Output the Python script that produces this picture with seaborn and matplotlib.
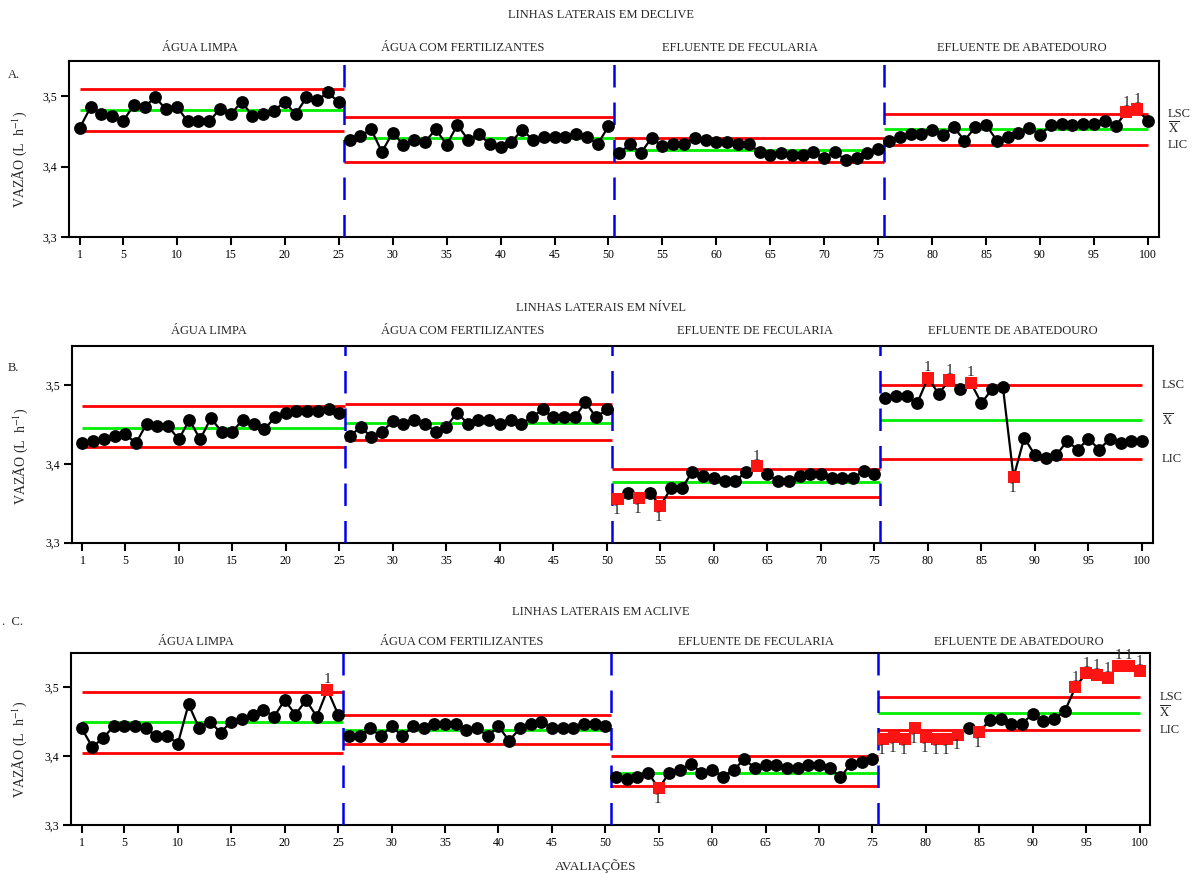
import numpy as np
import pandas as pd
import matplotlib
matplotlib.use("Agg")
import matplotlib.pyplot as plt
import seaborn as sns

# ---------------------------------------------------------------- data
avaliacoes = list(range(1, 101))
xticks = [1, 5, 10, 15, 20, 25, 30, 35, 40, 45, 50, 55, 60, 65, 70, 75, 80, 85, 90, 95, 100]
yticks = [3.3, 3.4, 3.5]
ytick_labels = ["3,3", "3,4", "3,5"]

tratamentos = ["ÁGUA LIMPA", "ÁGUA COM FERTILIZANTES",
               "EFLUENTE DE FECULARIA", "EFLUENTE DE ABATEDOURO"]

vazao_declive = [
    3.455, 3.484, 3.474, 3.472, 3.464, 3.487, 3.485, 3.498, 3.481, 3.485,
    3.464, 3.464, 3.464, 3.482, 3.474, 3.492, 3.472, 3.474, 3.479, 3.492,
    3.474, 3.498, 3.494, 3.505, 3.491,
    3.438, 3.443, 3.453, 3.421, 3.448, 3.431, 3.438, 3.435, 3.453, 3.431,
    3.459, 3.438, 3.446, 3.432, 3.428, 3.435, 3.452, 3.438, 3.442, 3.442,
    3.442, 3.446, 3.442, 3.432, 3.457,
    3.419, 3.432, 3.419, 3.441, 3.429, 3.432, 3.432, 3.441, 3.438, 3.435,
    3.435, 3.432, 3.432, 3.421, 3.416, 3.419, 3.416, 3.416, 3.421, 3.412,
    3.421, 3.409, 3.412, 3.419, 3.425,
    3.437, 3.442, 3.446, 3.446, 3.452, 3.445, 3.456, 3.437, 3.456, 3.459,
    3.437, 3.442, 3.448, 3.455, 3.445, 3.459, 3.461, 3.459, 3.461, 3.461,
    3.465, 3.458, 3.477, 3.481, 3.465]

vazao_nivel = [
    3.427, 3.429, 3.432, 3.435, 3.438, 3.426, 3.451, 3.448, 3.448, 3.431,
    3.456, 3.431, 3.458, 3.441, 3.441, 3.456, 3.451, 3.444, 3.459, 3.465,
    3.467, 3.467, 3.467, 3.470, 3.465,
    3.435, 3.447, 3.434, 3.441, 3.454, 3.451, 3.456, 3.451, 3.441, 3.447,
    3.465, 3.451, 3.456, 3.456, 3.451, 3.456, 3.451, 3.459, 3.469, 3.459,
    3.459, 3.459, 3.478, 3.459, 3.469,
    3.355, 3.363, 3.357, 3.363, 3.347, 3.369, 3.369, 3.390, 3.384, 3.382,
    3.378, 3.378, 3.390, 3.397, 3.387, 3.378, 3.378, 3.385, 3.387, 3.387,
    3.382, 3.382, 3.382, 3.391, 3.387,
    3.483, 3.486, 3.486, 3.477, 3.509, 3.489, 3.506, 3.495, 3.503, 3.477,
    3.495, 3.498, 3.383, 3.433, 3.411, 3.408, 3.411, 3.429, 3.418, 3.432,
    3.418, 3.432, 3.427, 3.429, 3.429]

vazao_aclive = [
    3.440, 3.413, 3.426, 3.443, 3.443, 3.443, 3.440, 3.429, 3.429, 3.418,
    3.475, 3.440, 3.450, 3.434, 3.450, 3.453, 3.460, 3.467, 3.457, 3.481,
    3.460, 3.481, 3.457, 3.496, 3.460,
    3.429, 3.429, 3.440, 3.429, 3.443, 3.429, 3.443, 3.440, 3.447, 3.447,
    3.447, 3.437, 3.440, 3.429, 3.443, 3.422, 3.440, 3.447, 3.450, 3.440,
    3.440, 3.440, 3.447, 3.447, 3.443,
    3.370, 3.366, 3.370, 3.376, 3.353, 3.376, 3.380, 3.389, 3.376, 3.380,
    3.370, 3.380, 3.395, 3.383, 3.387, 3.387, 3.383, 3.383, 3.387, 3.387,
    3.383, 3.369, 3.389, 3.392, 3.395,
    3.425, 3.428, 3.425, 3.440, 3.428, 3.425, 3.425, 3.431, 3.441, 3.435,
    3.452, 3.454, 3.447, 3.447, 3.461, 3.451, 3.454, 3.465, 3.500, 3.520,
    3.517, 3.513, 3.531, 3.531, 3.523]

# control limits per treatment (upper, centre line, lower)
lsc_declive = [3.510, 3.470, 3.441, 3.474]
media_declive = [3.480, 3.440, 3.424, 3.454]
lic_declive = [3.450, 3.407, 3.407, 3.430]

lsc_nivel = [3.473, 3.476, 3.394, 3.500]
media_nivel = [3.446, 3.452, 3.377, 3.455]
lic_nivel = [3.421, 3.430, 3.358, 3.406]

lsc_aclive = [3.493, 3.459, 3.400, 3.486]
media_aclive = [3.449, 3.438, 3.376, 3.463]
lic_aclive = [3.404, 3.417, 3.357, 3.438]

# out-of-control evaluations (flag "1" drawn above / below the point)
fora_acima_declive = [98, 99]
fora_abaixo_declive = []
fora_acima_nivel = [64, 80, 82, 84]
fora_abaixo_nivel = [51, 53, 55, 88]
fora_acima_aclive = [24, 94, 95, 96, 97, 98, 99, 100]
fora_abaixo_aclive = [55, 76, 77, 78, 79, 80, 81, 82, 83, 85]

# ---------------------------------------------------------------- style
sns.set_style("ticks")
plt.rcParams["font.family"] = ["Liberation Serif", "DejaVu Serif"]
plt.rcParams["mathtext.fontset"] = "stix"
plt.rcParams["axes.linewidth"] = 1.5

VERMELHO = "#ff0000"
VERDE = "#00ee00"
AZUL = "#0000ee"
FS = 8.5

inicio_trat = [1, 25.5, 50.5, 75.5]
fim_trat = [25.5, 50.5, 75.5, 100]
divisorias = [25.5, 50.5, 75.5]

W, H = 1192, 874
fig = plt.figure(figsize=(W / 100, H / 100), dpi=100)


def px_axes(left, right, top, bottom):
    return [left / W, 1 - bottom / H, (right - left) / W, (bottom - top) / H]


paineis = [
    dict(rect=px_axes(69, 1158.7, 60.7, 237.3), valores=vazao_declive,
         lsc=lsc_declive, media=media_declive, lic=lic_declive,
         acima=fora_acima_declive, abaixo=fora_abaixo_declive,
         titulo="LINHAS LATERAIS EM DECLIVE", titulo_y=15,
         letra="A.", letra_xy=(8, 75),
         trat_x=[12.1, 36.5, 62.2, 88.3], trat_y=48, ylab_x=-0.037),
    dict(rect=px_axes(71.7, 1152.7, 345.6, 542.7), valores=vazao_nivel,
         lsc=lsc_nivel, media=media_nivel, lic=lic_nivel,
         acima=fora_acima_nivel, abaixo=fora_abaixo_nivel,
         titulo="LINHAS LATERAIS EM NÍVEL", titulo_y=308,
         letra="B.", letra_xy=(8, 368),
         trat_x=[12.8, 36.5, 63.8, 87.9], trat_y=331, ylab_x=-0.039),
    dict(rect=px_axes(71, 1150.3, 652.5, 825), valores=vazao_aclive,
         lsc=lsc_aclive, media=media_aclive, lic=lic_aclive,
         acima=fora_acima_aclive, abaixo=fora_abaixo_aclive,
         titulo="LINHAS LATERAIS EM ACLIVE", titulo_y=612,
         letra=".  C.", letra_xy=(2, 622),
         trat_x=[11.7, 36.6, 64.1, 88.7], trat_y=642, ylab_x=-0.039),
]

for p in paineis:
    ax = fig.add_axes(p["rect"])
    df = pd.DataFrame({
        "avaliacao": avaliacoes,
        "vazao": p["valores"],
        "tratamento": np.repeat(np.arange(4), 25),
    })
    fora = p["acima"] + p["abaixo"]
    df["fora"] = df["avaliacao"].isin(fora)

    # control limits and centre lines for each treatment
    for i in range(4):
        ax.hlines(p["lsc"][i], inicio_trat[i], fim_trat[i], color=VERMELHO, lw=2.0, zorder=2)
        ax.hlines(p["lic"][i], inicio_trat[i], fim_trat[i], color=VERMELHO, lw=2.0, zorder=2)
        ax.hlines(p["media"][i], inicio_trat[i], fim_trat[i], color=VERDE, lw=2.0, zorder=2)
    for xd in divisorias:
        ax.axvline(xd, color=AZUL, lw=1.8, dashes=(9, 6), zorder=3)

    sns.lineplot(data=df, x="avaliacao", y="vazao", units="tratamento",
                 estimator=None, color="black", lw=1.6, ax=ax, zorder=4)
    sns.scatterplot(data=df[~df["fora"]], x="avaliacao", y="vazao", color="black",
                    marker="o", s=85, linewidth=0, ax=ax, zorder=5)
    sns.scatterplot(data=df[df["fora"]], x="avaliacao", y="vazao", color="#ff1414",
                    marker="s", s=72, linewidth=0, ax=ax, zorder=5)

    for a in p["acima"]:
        ax.annotate("1", (a, p["valores"][a - 1]), xytext=(0, 2.5),
                    textcoords="offset points", ha="center", va="bottom",
                    fontsize=11, zorder=6)
    for a in p["abaixo"]:
        ax.annotate("1", (a, p["valores"][a - 1]), xytext=(-1, -3.5),
                    textcoords="offset points", ha="center", va="top",
                    fontsize=11, zorder=6)

    ax.set_xlim(0, 101)
    ax.set_ylim(3.3, 3.55)
    ax.set_xticks(xticks)
    ax.set_yticks(yticks)
    ax.set_yticklabels(ytick_labels)
    ax.tick_params(direction="out", length=5.5, width=1.5, labelsize=FS, pad=3,
                   color="black", labelcolor="black")
    for s in ax.spines.values():
        s.set_visible(True)
        s.set_color("black")
        s.set_linewidth(1.5)
    ax.set_xlabel("")
    ax.set_ylabel("VAZÃO (L  h$^{-1}$)", fontsize=10)
    ax.yaxis.set_label_coords(p["ylab_x"], 0.44)

    # labels of the last treatment's limits on the right margin
    for rot, val in [("LSC", p["lsc"][3]), (r"$\overline{\mathrm{X}}$", p["media"][3]),
                     ("LIC", p["lic"][3])]:
        ax.annotate(rot, (1, val), xycoords=("axes fraction", "data"),
                    xytext=(6.5, 0), textcoords="offset points",
                    ha="left", va="center", fontsize=9, annotation_clip=False)

    # treatment names above the plot
    for nome, xt in zip(tratamentos, p["trat_x"]):
        y_ax = (p["rect"][1] + p["rect"][3] - (1 - p["trat_y"] / H))
        ax.annotate(nome, (xt, 1 + (-y_ax) / p["rect"][3]),
                    xycoords=("data", "axes fraction"), ha="center", va="center",
                    fontsize=9, annotation_clip=False)

    fig.text(0.504, 1 - p["titulo_y"] / H, p["titulo"], ha="center", va="center", fontsize=9)
    fig.text(p["letra_xy"][0] / W, 1 - p["letra_xy"][1] / H, p["letra"],
             ha="left", va="center", fontsize=9)

fig.text(596 / W, 1 - 866 / H, "AVALIAÇÕES", ha="center", va="center", fontsize=9.5)

fig.savefig("out.png", dpi=100)
